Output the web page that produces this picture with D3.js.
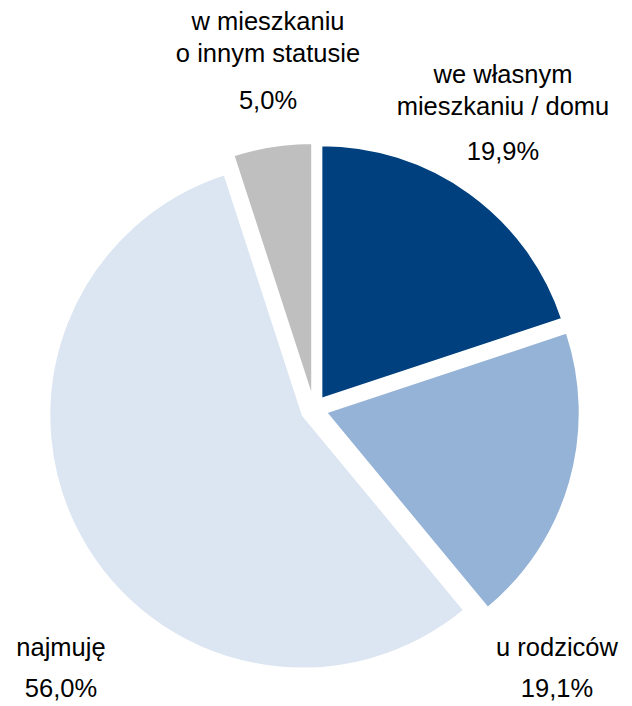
<!DOCTYPE html>
<html>
<head>
<meta charset="utf-8">
<script src="https://cdn.jsdelivr.net/npm/d3@7"></script>
<style>
  body { margin: 0; background: #fff; }
  text { font-family: "Liberation Sans", Arial, sans-serif; fill: #000; }
</style>
</head>
<body>
<div id="wrapper"></div>
<script>
const categories = ["we własnym\nmieszkaniu / domu", "u rodziców", "najmuję", "w mieszkaniu\no innym statusie"];
const values = [19.9, 19.1, 56.0, 5.0];
const valueLabels = ["19,9%", "19,1%", "56,0%", "5,0%"];
const colors = ["#00407e", "#95b3d7", "#dce6f2", "#bfbfbf"];

// label anchor (centre of first text line) for each slice
const labelPos = [
  { x: 503, y: 76, gap: 45 },
  { x: 557, y: 649, gap: 41 },
  { x: 61, y: 649, gap: 41 },
  { x: 268, y: 23, gap: 47 }
];

function drawPie() {
  const dimensions = { width: 632, height: 706 };
  const cx = 314, cy = 409, radius = 253, explode = 13;
  const lineHeight = 32;

  const svg = d3.select("#wrapper").append("svg")
    .attr("width", dimensions.width)
    .attr("height", dimensions.height);

  const data = categories.map((c, i) => ({ name: c, value: values[i], label: valueLabels[i], color: colors[i] }));

  const pie = d3.pie()
    .sort(null)
    .value(d => d.value)
    .startAngle(0)
    .endAngle(2 * Math.PI);

  const arc = d3.arc()
    .innerRadius(0)
    .outerRadius(radius);

  const arcs = pie(data);

  const bounds = svg.append("g")
    .attr("transform", `translate(${cx},${cy})`);

  bounds.selectAll("path")
    .data(arcs)
    .join("path")
    .attr("d", arc)
    .attr("fill", d => d.data.color)
    .attr("stroke", "#fff")
    .attr("stroke-width", 1.5)
    .attr("transform", d => {
      const mid = (d.startAngle + d.endAngle) / 2;
      return `translate(${explode * Math.sin(mid)},${-explode * Math.cos(mid)})`;
    });

  // labels
  const labels = svg.append("g")
    .attr("font-size", 25.5)
    .attr("text-anchor", "middle");

  arcs.forEach((d, i) => {
    const p = labelPos[i];
    const lines = d.data.name.split("\n");
    const t = labels.append("text")
      .attr("x", p.x)
      .attr("y", p.y)
      .attr("dominant-baseline", "middle");
    lines.forEach((l, j) => {
      t.append("tspan")
        .attr("x", p.x)
        .attr("dy", j === 0 ? 0 : lineHeight)
        .text(l);
    });
    labels.append("text")
      .attr("x", p.x)
      .attr("y", p.y + (lines.length - 1) * lineHeight + p.gap)
      .attr("dominant-baseline", "middle")
      .text(d.data.label);
  });
}

drawPie();
</script>
</body>
</html>
